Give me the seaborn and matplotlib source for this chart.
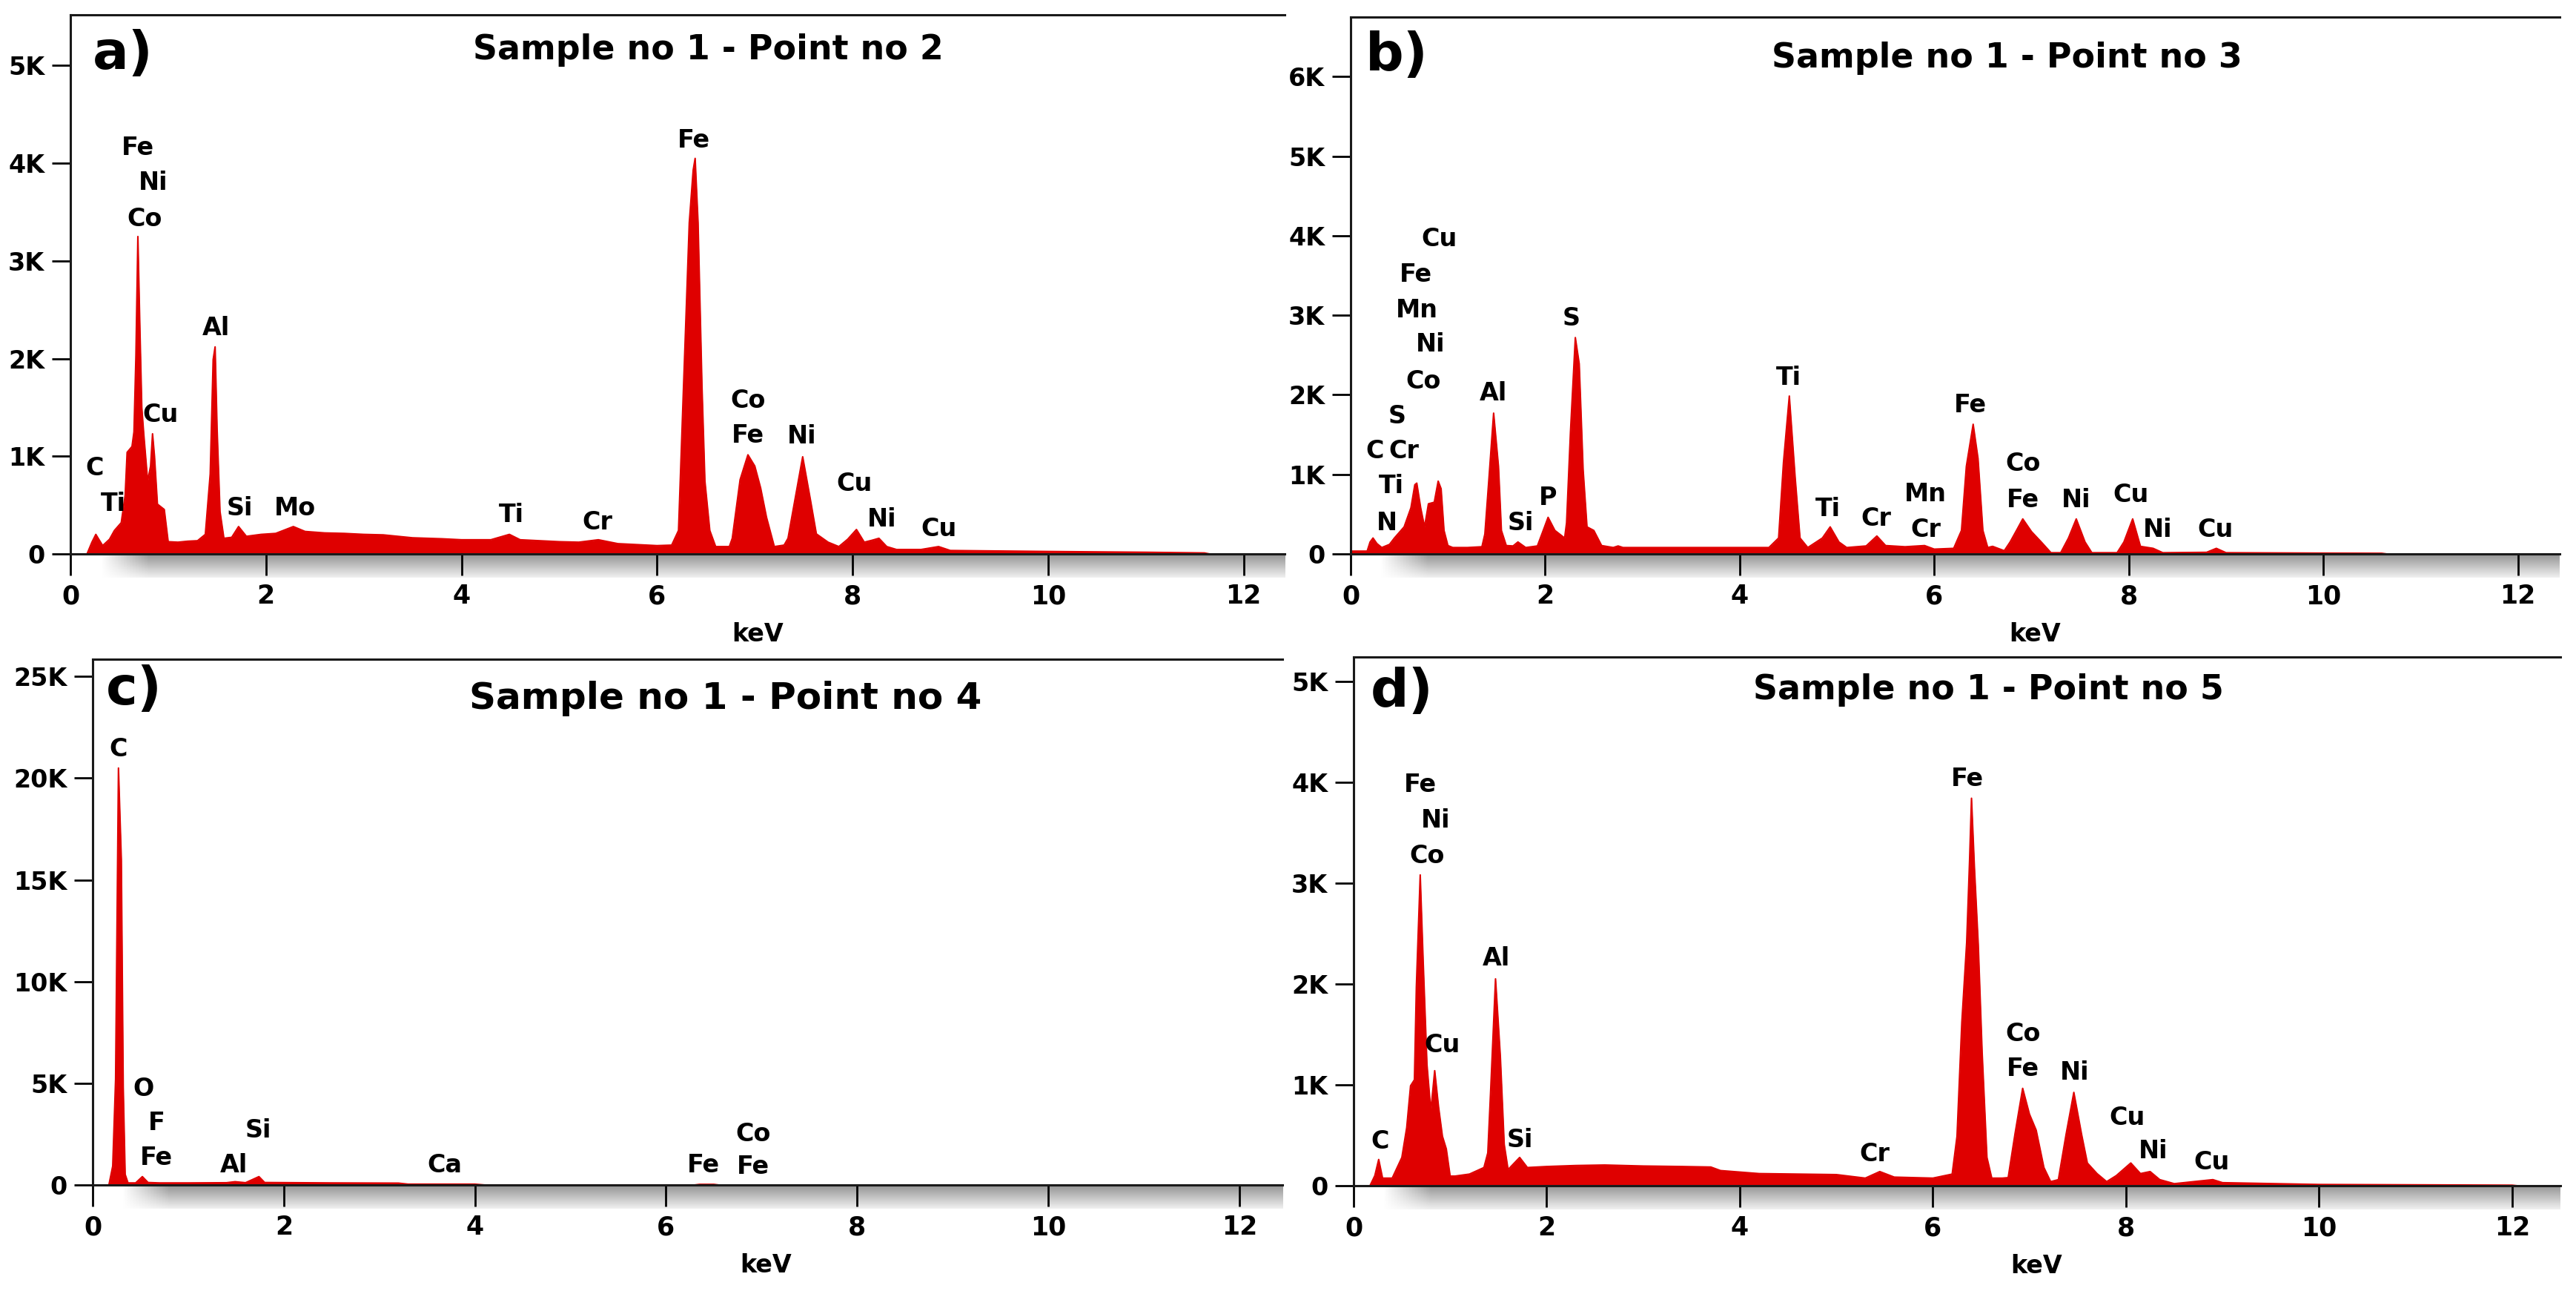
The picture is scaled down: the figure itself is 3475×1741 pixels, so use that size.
import matplotlib
matplotlib.use("Agg")
import matplotlib.pyplot as plt
import seaborn as sns
import numpy as np
from matplotlib.ticker import FuncFormatter

sns.set_style("ticks")
plt.rcParams['font.family'] = ['DejaVu Sans']
plt.rcParams['text.color'] = 'black'
plt.rcParams['xtick.color'] = 'black'
plt.rcParams['ytick.color'] = 'black'
plt.rcParams['axes.labelcolor'] = 'black'

RED = '#DF0000'

# ---- spectra (keV, counts) ----
kev_a = [0.17, 0.22, 0.26, 0.29, 0.33, 0.40, 0.45, 0.52, 0.56, 0.58, 0.63, 0.65, 0.67, 0.69, 0.71,
         0.73, 0.75, 0.79, 0.82, 0.84, 0.86, 0.89, 0.96, 1.00, 1.10, 1.20, 1.30, 1.38, 1.43, 1.46,
         1.48, 1.50, 1.53, 1.57, 1.65, 1.72, 1.80, 1.95, 2.10, 2.28, 2.40, 2.60, 2.80, 3.00, 3.20,
         3.50, 3.80, 4.00, 4.30, 4.49, 4.60, 5.00, 5.20, 5.40, 5.60, 6.00, 6.15, 6.22, 6.27, 6.30,
         6.33, 6.37, 6.39, 6.42, 6.46, 6.49, 6.54, 6.60, 6.74, 6.77, 6.85, 6.93, 7.00, 7.06, 7.12,
         7.20, 7.30, 7.34, 7.41, 7.49, 7.57, 7.63, 7.75, 7.86, 7.95, 8.04, 8.12, 8.20, 8.27, 8.35,
         8.45, 8.70, 8.88, 9.00, 9.50, 10.00, 11.00, 11.60, 11.65]
cnt_a = [0, 120, 200, 150, 85, 150, 240, 320, 600, 1040, 1100, 1250, 2030, 3250, 2340,
         1500, 1230, 745, 900, 1230, 1000, 510, 455, 125, 120, 130, 135, 200, 820, 1990,
         2120, 1290, 435, 160, 170, 280, 180, 200, 210, 280, 230, 215, 210, 200, 195,
         165, 155, 145, 145, 200, 145, 125, 120, 145, 105, 85, 90, 240, 1680, 2530,
         3390, 3930, 4050, 3390, 1715, 745, 240, 75, 75, 160, 760, 1015, 900, 675, 375,
         75, 90, 160, 550, 995, 550, 205, 120, 75, 150, 250, 120, 140, 160, 75,
         45, 45, 75, 35, 30, 25, 17, 10, 0]

kev_b = [0.00, 0.17, 0.20, 0.23, 0.27, 0.32, 0.40, 0.45, 0.50, 0.55, 0.62, 0.66, 0.68, 0.72, 0.76,
         0.80, 0.86, 0.90, 0.93, 0.96, 1.00, 1.05, 1.20, 1.35, 1.38, 1.42, 1.47, 1.52, 1.55, 1.60,
         1.67, 1.72, 1.80, 1.92, 1.98, 2.03, 2.10, 2.20, 2.22, 2.26, 2.31, 2.35, 2.39, 2.43, 2.50,
         2.58, 2.70, 2.75, 2.80, 3.50, 4.30, 4.40, 4.45, 4.51, 4.57, 4.62, 4.70, 4.85, 4.93, 5.02,
         5.10, 5.30, 5.41, 5.50, 5.70, 5.90, 6.00, 6.20, 6.28, 6.33, 6.40, 6.45, 6.50, 6.55, 6.60,
         6.72, 6.78, 6.85, 6.91, 7.00, 7.10, 7.20, 7.30, 7.38, 7.46, 7.55, 7.62, 7.88, 7.95, 8.04,
         8.12, 8.25, 8.35, 8.80, 8.90, 9.00, 10.00, 10.60, 10.65]
cnt_b = [35, 35, 150, 200, 130, 80, 120, 200, 270, 340, 580, 870, 890, 580, 340,
         630, 650, 915, 820, 295, 105, 80, 80, 90, 250, 915, 1770, 1100, 295, 105,
         100, 150, 80, 100, 295, 460, 295, 200, 390, 1530, 2720, 2390, 1060, 340, 295,
         105, 80, 100, 80, 80, 80, 200, 1150, 1985, 960, 200, 80, 200, 340, 150,
         80, 100, 225, 105, 90, 105, 60, 70, 295, 1100, 1630, 1200, 295, 80, 95,
         40, 150, 305, 440, 280, 150, 15, 15, 200, 440, 150, 15, 15, 150, 440,
         95, 70, 15, 20, 70, 15, 10, 8, 0]

kev_c = [0.17, 0.21, 0.24, 0.27, 0.30, 0.32, 0.34, 0.37, 0.45, 0.52, 0.58, 0.70, 1.00, 1.40, 1.49,
         1.60, 1.74, 1.80, 2.50, 3.20, 3.30, 4.00, 4.10, 6.30, 6.35, 6.50, 6.55]
cnt_c = [0, 930, 5200, 20500, 16000, 4800, 520, 100, 100, 410, 120, 100, 100, 110, 160,
         110, 410, 120, 100, 90, 40, 40, 0, 0, 30, 30, 0]

kev_d = [0.17, 0.22, 0.26, 0.30, 0.40, 0.50, 0.55, 0.59, 0.63, 0.65, 0.69, 0.72, 0.76, 0.80, 0.84,
         0.88, 0.92, 0.96, 1.00, 1.05, 1.20, 1.35, 1.39, 1.42, 1.47, 1.52, 1.56, 1.60, 1.72, 1.80,
         2.00, 2.30, 2.60, 3.00, 3.40, 3.70, 3.80, 4.20, 4.60, 5.00, 5.30, 5.45, 5.60, 6.00, 6.20,
         6.25, 6.30, 6.35, 6.38, 6.40, 6.43, 6.47, 6.51, 6.56, 6.61, 6.72, 6.78, 6.85, 6.93, 7.00,
         7.07, 7.15, 7.22, 7.30, 7.38, 7.46, 7.54, 7.60, 7.70, 7.80, 7.90, 8.05, 8.15, 8.25, 8.35,
         8.50, 8.90, 9.00, 10.00, 11.20, 12.00, 12.05]
cnt_d = [0, 100, 260, 75, 75, 280, 575, 990, 1050, 1970, 3080, 2240, 1200, 740, 1140,
         780, 490, 365, 95, 95, 115, 180, 325, 950, 2050, 1280, 410, 160, 280, 180,
         190, 200, 205, 195, 190, 185, 150, 120, 115, 110, 75, 140, 85, 75, 115,
         490, 1620, 2410, 3220, 3840, 3160, 2390, 1325, 280, 75, 75, 80, 510, 965, 710,
         550, 180, 40, 60, 510, 925, 510, 225, 120, 40, 100, 225, 120, 140, 60,
         20, 60, 30, 12, 8, 5, 0]

# ---- peak labels (element, keV, counts) ----
peaks_a = [("Fe", 0.69, 4160), ("Ni", 0.85, 3800), ("Co", 0.76, 3430), ("Al", 1.49, 2310),
           ("Cu", 0.92, 1420), ("C", 0.25, 880), ("Ti", 0.44, 510), ("Si", 1.73, 470),
           ("Mo", 2.30, 470), ("Ti", 4.51, 400), ("Cr", 5.39, 325), ("Fe", 6.38, 4230),
           ("Co", 6.93, 1570), ("Fe", 6.93, 1210), ("Ni", 7.48, 1200), ("Cu", 8.02, 720),
           ("Ni", 8.30, 355), ("Cu", 8.88, 255)]
peaks_b = [("Cu", 0.91, 3960), ("Fe", 0.67, 3510), ("Mn", 0.68, 3060), ("Ni", 0.82, 2630),
           ("Co", 0.75, 2170), ("S", 0.48, 1730), ("C", 0.25, 1290), ("Cr", 0.55, 1290),
           ("Ti", 0.42, 850), ("N", 0.37, 390), ("Al", 1.47, 2020), ("Si", 1.75, 390),
           ("P", 2.03, 700), ("S", 2.27, 2960), ("Ti", 4.50, 2210), ("Ti", 4.91, 560),
           ("Cr", 5.40, 440), ("Mn", 5.91, 750), ("Cr", 5.91, 305), ("Fe", 6.37, 1870),
           ("Co", 6.91, 1130), ("Fe", 6.91, 680), ("Ni", 7.46, 680), ("Cu", 8.02, 745),
           ("Ni", 8.30, 305), ("Cu", 8.89, 305)]
peaks_c = [("C", 0.27, 21430), ("O", 0.53, 4710), ("F", 0.67, 3040), ("Fe", 0.67, 1340),
           ("Si", 1.73, 2690), ("Al", 1.48, 970), ("Ca", 3.68, 970), ("Fe", 6.39, 970),
           ("Co", 6.91, 2490), ("Fe", 6.91, 880)]
peaks_d = [("Fe", 0.69, 3970), ("Ni", 0.85, 3620), ("Co", 0.76, 3270), ("Al", 1.48, 2250),
           ("Cu", 0.92, 1390), ("C", 0.27, 440), ("Si", 1.72, 450), ("Cr", 5.40, 315),
           ("Fe", 6.36, 4030), ("Co", 6.93, 1500), ("Fe", 6.93, 1160), ("Ni", 7.47, 1120),
           ("Cu", 8.01, 670), ("Ni", 8.28, 340), ("Cu", 8.89, 230)]

titles = ["Sample no 1 - Point no 2", "Sample no 1 - Point no 3",
          "Sample no 1 - Point no 4", "Sample no 1 - Point no 5"]
letters = ["a)", "b)", "c)", "d)"]
y_max = [5520, 6750, 25850, 5240]
y_step = [1000, 1000, 5000, 1000]
x_max = [12.42, 12.43, 12.45, 12.5]

W, H = 3475, 1741
fig = plt.figure(figsize=(W / 100, H / 100), dpi=100)

# axes boxes in pixels: left, right, top, bottom(zero line)
boxes = [(95, 1733, 20, 747), (1822, 3453, 23, 747),
         (125, 1730, 889, 1598), (1826, 3454, 886, 1599)]
title_pos = [(0.525, 0.934, 33), (0.543, 0.923, 33), (0.532, 0.925, 36), (0.526, 0.938, 33)]
letter_pos = [(0.018, 0.926), (0.012, 0.927), (0.011, 0.942), (0.014, 0.933)]

spectra = [(kev_a, cnt_a, peaks_a), (kev_b, cnt_b, peaks_b),
           (kev_c, cnt_c, peaks_c), (kev_d, cnt_d, peaks_d)]


def kfmt(v, pos):
    return '0' if v == 0 else f'{int(round(v / 1000))}K'


# grey shadow strip under the axis
vv = np.linspace(0, 1, 30)[:, None]
uu = np.linspace(0, 1, 400)[None, :]
g = 0.58 + 0.36 * vv
fade = np.clip(uu / 0.04, 0, 1)
shade = 1 - (1 - g) * fade
shade_img = np.dstack([shade, shade, shade])

for i, (kev, cnt, peaks) in enumerate(spectra):
    l, r, t, b = boxes[i]
    ax = fig.add_axes([l / W, (H - b) / H, (r - l) / W, (b - t) / H])
    ah = b - t

    # shadow band
    x0 = 0.3 / x_max[i]
    band = fig.add_axes([(l + (r - l) * x0) / W, (H - b - 32) / H, (r - l) * (1 - x0) / W, 32 / H],
                        zorder=-1)
    band.imshow(shade_img, aspect='auto')
    band.axis('off')

    ax.fill_between(kev, cnt, 0, color=RED, linewidth=0)
    sns.lineplot(x=kev, y=cnt, ax=ax, color=RED, linewidth=1.5, estimator=None, sort=False)

    ax.set_xlim(0, x_max[i])
    ax.set_ylim(0, y_max[i])
    ax.set_xticks(range(0, 13, 2))
    ax.set_yticks(np.arange(0, y_max[i], y_step[i]))
    ax.yaxis.set_major_formatter(FuncFormatter(kfmt))
    ax.tick_params(axis='x', length=21, width=2, pad=8, labelsize=25, direction='out')
    ax.tick_params(axis='y', length=18, width=2, pad=7, labelsize=24, direction='out')
    for lab in ax.get_xticklabels() + ax.get_yticklabels():
        lab.set_fontweight('bold')
    ax.spines['right'].set_visible(False)
    for s in ['left', 'top', 'bottom']:
        ax.spines[s].set_linewidth(2.2)
        ax.spines[s].set_color('#1a1a1a')

    ax.set_ylabel('')
    ax.set_xlabel('keV', fontsize=24, fontweight='bold')
    ax.xaxis.set_label_coords(0.566, -92 / ah)

    tx, ty, ts = title_pos[i]
    ax.text(tx, ty, titles[i], transform=ax.transAxes, ha='center', va='center',
            fontsize=ts, fontweight='bold')
    lx, ly = letter_pos[i]
    ax.text(lx, ly, letters[i], transform=ax.transAxes, ha='left', va='center',
            fontsize=52, fontweight='bold')

    for name, x, y in peaks:
        ax.text(x, y, name, ha='center', va='center', fontsize=24, fontweight='bold')

fig.savefig('out.png', dpi=100, facecolor='white')
